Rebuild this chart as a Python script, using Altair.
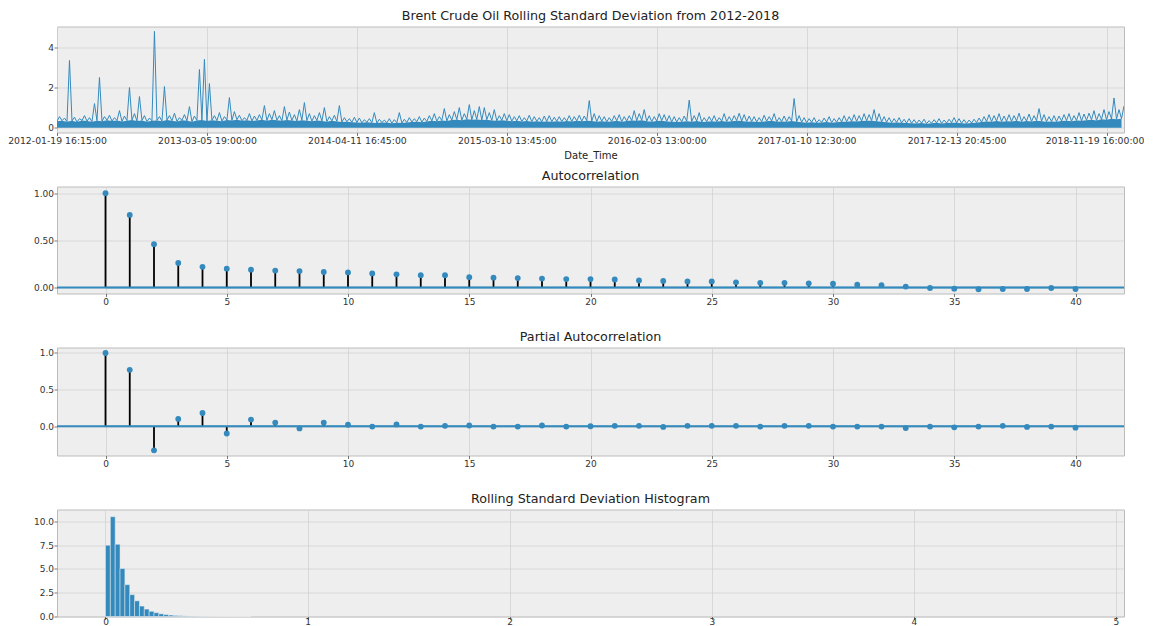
import altair as alt
import pandas as pd

BLUE = "#348ABD"
FONT = "DejaVu Sans"

# ---- Panel 1: rolling standard deviation, read per ~5px slot of the picture
# upper: top of the jagged edge / spikes; body: top of the solid filled band
upper = [
    0.55, 0.48, 3.35, 0.52, 0.45, 0.6, 0.5, 1.2, 2.5, 0.55,
    0.62, 0.5, 0.85, 0.58, 2.0, 0.7, 1.55, 0.6, 0.48, 4.8,
    0.55, 2.05, 0.6, 0.72, 0.5, 0.65, 1.05, 0.58, 2.9, 3.4,
    2.2, 0.6, 0.75, 0.55, 1.5, 0.8, 0.62, 0.5, 0.7, 0.58,
    0.65, 1.1, 0.7, 0.85, 0.6, 1.05, 0.78, 0.65, 0.9, 1.25,
    0.7, 0.6, 0.75, 1.0, 0.55, 0.62, 1.1, 0.5, 0.45, 0.52,
    0.48, 0.4, 0.45, 0.75, 0.42, 0.38, 0.45, 0.4, 0.75, 0.42,
    0.5, 0.45, 0.55, 0.48, 0.6, 0.7, 0.55, 0.95, 0.65, 0.8,
    1.0, 0.7, 1.15, 0.85, 1.05, 1.0, 0.75, 0.9, 0.6, 0.7,
    0.65, 0.55, 0.6, 0.5, 0.62, 0.55, 0.5, 0.58, 0.6, 0.52,
    0.55, 0.5, 0.6, 0.55, 0.62, 0.58, 1.35, 0.7, 0.6, 0.55,
    0.5, 0.6, 0.65, 0.55, 0.6, 0.85, 0.7, 0.9, 0.6, 0.55,
    0.7, 0.65, 0.6, 0.55, 0.5, 0.58, 1.37, 0.6, 0.75, 0.5,
    0.55, 0.6, 0.5, 0.7, 0.55, 0.6, 0.72, 0.65, 0.58, 0.55,
    0.5, 0.62, 0.55, 0.7, 0.5, 0.58, 0.55, 1.45, 0.6, 0.5,
    0.45, 0.5, 0.4, 0.48, 0.55, 0.45, 0.5, 0.6, 0.55, 0.65,
    0.6, 0.7, 0.65, 0.9, 0.7, 0.55, 0.5, 0.45, 0.5, 0.42,
    0.45, 0.4, 0.38, 0.42, 0.35, 0.4, 0.45, 0.38, 0.42, 0.5,
    0.45, 0.4, 0.38, 0.42, 0.48, 0.55, 0.65, 0.6, 0.7, 0.58,
    0.65, 0.6, 0.72, 0.55, 0.68, 0.6, 0.95, 0.65, 0.55, 0.6,
    0.58, 0.65, 0.7, 0.6, 0.75, 0.68, 0.72, 0.85, 0.7, 0.9,
    0.8, 1.48, 0.9, 1.08,
]
body = [
    0.32, 0.35, 0.3, 0.34, 0.28, 0.36, 0.33, 0.3, 0.35, 0.32,
    0.37, 0.33, 0.36, 0.31, 0.35, 0.38, 0.33, 0.36, 0.3, 0.34,
    0.36, 0.32, 0.38, 0.35, 0.31, 0.37, 0.34, 0.3, 0.36, 0.38,
    0.33, 0.37, 0.35, 0.32, 0.38, 0.36, 0.4, 0.34, 0.37, 0.33,
    0.36, 0.39, 0.35, 0.4, 0.37, 0.34, 0.38, 0.36, 0.33, 0.37,
    0.35, 0.32, 0.36, 0.33, 0.3, 0.34, 0.31, 0.28, 0.3, 0.27,
    0.26, 0.24, 0.27, 0.25, 0.23, 0.26, 0.24, 0.22, 0.25, 0.23,
    0.26, 0.28, 0.3, 0.27, 0.31, 0.34, 0.32, 0.36, 0.33, 0.38,
    0.4, 0.37, 0.42, 0.39, 0.41, 0.38, 0.4, 0.36, 0.34, 0.37,
    0.35, 0.32, 0.34, 0.31, 0.33, 0.3, 0.32, 0.29, 0.31, 0.3,
    0.32, 0.3, 0.33, 0.31, 0.34, 0.32, 0.35, 0.33, 0.3, 0.32,
    0.29, 0.31, 0.34, 0.3, 0.33, 0.36, 0.34, 0.37, 0.32, 0.3,
    0.33, 0.35, 0.31, 0.29, 0.28, 0.3, 0.32, 0.3, 0.33, 0.28,
    0.3, 0.32, 0.29, 0.33, 0.3, 0.32, 0.35, 0.33, 0.3, 0.31,
    0.28, 0.3, 0.32, 0.34, 0.29, 0.31, 0.3, 0.33, 0.29, 0.27,
    0.25, 0.27, 0.24, 0.26, 0.28, 0.25, 0.27, 0.29, 0.3, 0.32,
    0.31, 0.33, 0.34, 0.35, 0.32, 0.29, 0.27, 0.25, 0.26, 0.24,
    0.23, 0.22, 0.21, 0.23, 0.2, 0.22, 0.24, 0.21, 0.23, 0.25,
    0.24, 0.22, 0.21, 0.23, 0.25, 0.28, 0.31, 0.3, 0.33, 0.3,
    0.32, 0.31, 0.34, 0.3, 0.33, 0.31, 0.35, 0.32, 0.3, 0.31,
    0.3, 0.33, 0.35, 0.32, 0.36, 0.34, 0.37, 0.4, 0.36, 0.42,
    0.4, 0.44, 0.42, 0.45,
]
date_labels = [
    "2012-01-19 16:15:00", "2013-03-05 19:00:00", "2014-04-11 16:45:00",
    "2015-03-10 13:45:00", "2016-02-03 13:00:00", "2017-01-10 12:30:00",
    "2017-12-13 20:45:00", "2018-11-19 16:00:00",
]
date_tick_idx = [0, 60, 120, 180, 240, 300, 360, 420]

# ---- Panel 2/3: ACF and PACF by lag
lags = list(range(41))
acf_vals = [
    1.0, 0.77, 0.46, 0.26, 0.22, 0.2, 0.19, 0.18, 0.175, 0.165,
    0.16, 0.15, 0.14, 0.13, 0.13, 0.11, 0.105, 0.1, 0.095, 0.09,
    0.09, 0.085, 0.075, 0.07, 0.065, 0.065, 0.055, 0.05, 0.05, 0.045,
    0.04, 0.03, 0.025, 0.01, -0.005, -0.012, -0.018, -0.015, -0.015, -0.005,
    -0.015,
]
pacf_vals = [
    1.0, 0.77, -0.33, 0.1, 0.18, -0.1, 0.09, 0.05, -0.03, 0.05,
    0.02, -0.005, 0.025, -0.005, 0.005, 0.01, -0.005, -0.005, 0.01, -0.005,
    0.0, 0.005, 0.005, -0.01, 0.005, 0.005, 0.005, -0.005, 0.005, 0.005,
    -0.005, -0.005, -0.005, -0.025, -0.005, -0.015, -0.005, 0.005, -0.01, -0.005,
    -0.02,
]
conf_half = 0.015

# ---- Panel 4: histogram (density), bin width 0.024 starting at 0
hist_bin_width = 0.024
hist_heights = [
    7.5, 10.5, 7.6, 5.05, 3.35, 2.3, 1.65, 1.1, 0.78, 0.55,
    0.4, 0.28, 0.2, 0.15, 0.11, 0.08, 0.06, 0.045, 0.035, 0.025,
    0.02, 0.015, 0.012, 0.01, 0.008, 0.006, 0.005, 0.004, 0.003, 0.003,
]

W = 1067

# build tables
line_rows = []
for i, (b, hi) in enumerate(zip(body, upper)):
    line_rows.append({"idx": 2 * i, "v": b})
    line_rows.append({"idx": 2 * i + 1, "v": hi})
ts = pd.DataFrame(line_rows)
body_df = pd.DataFrame({"idx": [2 * i for i in range(len(body))], "v": body})
n_last = len(line_rows) - 1

label_expr = "[" + ",".join("'%s'" % s for s in date_labels) + "][round(datum.value / 60)]"

title_kw = dict(fontSize=12.7, font=FONT, fontWeight="normal", color="#222222", offset=4, anchor="middle")

x1 = alt.X("idx:Q", scale=alt.Scale(domain=[0, n_last], nice=False, zero=False),
           axis=alt.Axis(values=date_tick_idx, labelExpr=label_expr, title="Date_Time",
                         labelFlush=False, labelOverlap=False, labelFontSize=9.3,
                         labelOffset={"condition": {"test": "datum.value == %d" % date_tick_idx[-1],
                                                    "value": -12}, "value": 0},
                         titleFontSize=10, titleFontWeight="normal", titlePadding=5.5,
                         titleFont=FONT, titleColor="#222222"))
y1 = alt.Y("v:Q", scale=alt.Scale(domain=[-0.24, 5.04], nice=False, zero=False),
           axis=alt.Axis(values=[0, 2, 4], title=None, format="d"))
area1 = alt.Chart(body_df).mark_area(color=BLUE, opacity=1, clip=True).encode(
    x=x1, y=y1, y2=alt.datum(0))
line1 = alt.Chart(ts).mark_line(color=BLUE, strokeWidth=1, clip=True).encode(x="idx:Q", y="v:Q")
p1 = alt.layer(area1, line1).properties(
    width=W, height=106,
    title=alt.TitleParams("Brent Crude Oil Rolling Standard Deviation from 2012-2018", **title_kw))


def corr_panel(vals, ydom, yticks, yfmt, title, height):
    df = pd.DataFrame({"lag": lags, "val": vals, "zero": [0] * len(lags)})
    band_df = pd.DataFrame({"lag": [0, 40], "lo": [-conf_half] * 2, "hi": [conf_half] * 2})
    xs = alt.Scale(domain=[-2, 42], nice=False, zero=False)
    ys = alt.Scale(domain=ydom, nice=False, zero=False)
    xax = alt.Axis(values=list(range(0, 41, 5)), format="d", title=None, labelFlush=False)
    yax = alt.Axis(values=yticks, format=yfmt, title=None)
    band = alt.Chart(band_df).mark_area(color=BLUE, opacity=0.25).encode(
        x=alt.X("lag:Q", scale=xs, axis=xax), y=alt.Y("lo:Q", scale=ys, axis=yax), y2="hi:Q")
    stems = alt.Chart(df).mark_rule(color="black", strokeWidth=1.8).encode(
        x="lag:Q", y="zero:Q", y2="val:Q")
    zl = alt.Chart(pd.DataFrame({"z": [0]})).mark_rule(color=BLUE, strokeWidth=2).encode(y="z:Q")
    pts = alt.Chart(df).mark_circle(color=BLUE, size=34, opacity=1).encode(x="lag:Q", y="val:Q")
    return alt.layer(band, stems, zl, pts).properties(
        width=W, height=height, title=alt.TitleParams(title, **title_kw))


p2 = corr_panel(acf_vals, [-0.063, 1.071], [0, 0.25, 0.5, 0.75, 1.0], ".2f", "Autocorrelation", 107)
p3 = corr_panel(pacf_vals, [-0.40, 1.075], [0, 0.5, 1.0], ".1f", "Partial Autocorrelation", 108)

hist_df = pd.DataFrame({
    "b0": [i * hist_bin_width for i in range(len(hist_heights))],
    "b1": [(i + 1) * hist_bin_width for i in range(len(hist_heights))],
    "h": hist_heights,
})
p4 = alt.Chart(hist_df).mark_rect(color=BLUE, stroke="#eeeeee", strokeWidth=0.5).encode(
    x=alt.X("b0:Q", scale=alt.Scale(domain=[-0.24, 5.04], nice=False, zero=False),
            axis=alt.Axis(values=[0, 1, 2, 3, 4, 5], format="d", title=None, labelFlush=False,
                          labelPadding=-2)),
    x2="b1:Q",
    y=alt.Y("h:Q", scale=alt.Scale(domain=[0, 11.26], nice=False),
            axis=alt.Axis(values=[0, 2.5, 5, 7.5, 10], format=".1f", title=None)),
    y2=alt.datum(0),
).properties(width=W, height=107,
             title=alt.TitleParams("Rolling Standard Deviation Histogram", **title_kw))

chart = alt.vconcat(p1, p2, p3, p4, spacing=54, bounds="flush").properties(
    padding={"left": -1, "top": 0.5, "right": -1, "bottom": 0},
    background="white",
).configure_view(
    fill="#eeeeee", stroke="#bcbcbc", strokeWidth=1
).configure_axis(
    domain=False, grid=True, gridColor="#d2d2d2", gridWidth=0.8,
    tickColor="#555555", tickSize=3, tickWidth=0.8,
    labelFont=FONT, labelFontSize=9, labelColor="#333333", labelPadding=0.5,
)

chart.save("out.html", embed_options={"renderer": "svg", "actions": False})
